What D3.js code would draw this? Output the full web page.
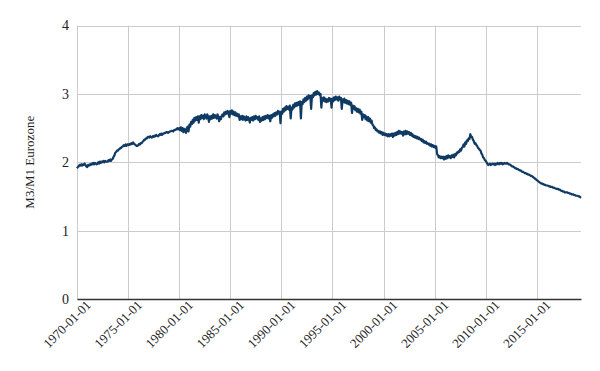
<!DOCTYPE html>
<html>
<head>
<meta charset="utf-8">
<script src="https://cdn.jsdelivr.net/npm/d3@7"></script>
<style>
  body { margin: 0; background: #fff; }
</style>
</head>
<body>
<div id="chart"></div>
<script>
// monthly M3/M1 ratio, starting January 1970
var startDate = new Date(1970, 0, 1);
var yTicks = [0, 1, 2, 3, 4];
var yLabel = "M3/M1 Eurozone";
var ratio = [
  1.91,1.93,1.94,1.96,1.95,1.97,1.95,1.97,1.96,1.98,1.96,1.94, // 1970
  1.93,1.96,1.95,1.97,1.96,1.98,1.97,1.99,1.97,1.99,1.98,1.97,
  1.98,2.00,1.98,2.01,1.99,2.01,2.00,2.02,2.00,2.02,2.01,2.01,
  2.01,2.03,2.02,2.04,2.02,2.04,2.05,2.08,2.10,2.14,2.15,2.17,
  2.17,2.19,2.19,2.21,2.21,2.23,2.23,2.25,2.24,2.26,2.24,2.26,
  2.26,2.25,2.27,2.26,2.28,2.27,2.29,2.27,2.26,2.25,2.24,2.24, // 1975
  2.25,2.27,2.26,2.28,2.28,2.30,2.31,2.33,2.33,2.35,2.35,2.37,
  2.37,2.36,2.38,2.37,2.36,2.38,2.37,2.39,2.38,2.40,2.39,2.38,
  2.39,2.41,2.40,2.42,2.40,2.42,2.42,2.43,2.43,2.44,2.44,2.43,
  2.44,2.45,2.45,2.46,2.46,2.45,2.47,2.47,2.48,2.48,2.50,2.48,
  2.50,2.47,2.51,2.46,2.50,2.44,2.49,2.47,2.43,2.50,2.52,2.45, // 1980
  2.55,2.52,2.59,2.56,2.62,2.58,2.65,2.61,2.66,2.62,2.67,2.58,
  2.67,2.63,2.69,2.65,2.68,2.63,2.70,2.66,2.64,2.70,2.67,2.59,
  2.67,2.63,2.68,2.64,2.70,2.65,2.69,2.66,2.64,2.70,2.67,2.60,
  2.66,2.63,2.68,2.70,2.67,2.73,2.70,2.74,2.71,2.75,2.72,2.66,
  2.75,2.71,2.76,2.70,2.74,2.69,2.73,2.68,2.71,2.67,2.70,2.62, // 1985
  2.67,2.63,2.68,2.62,2.67,2.64,2.61,2.67,2.62,2.66,2.63,2.58,
  2.65,2.62,2.66,2.61,2.67,2.63,2.68,2.64,2.66,2.62,2.67,2.59,
  2.64,2.61,2.66,2.62,2.67,2.63,2.68,2.65,2.69,2.64,2.68,2.60,
  2.69,2.65,2.70,2.67,2.72,2.68,2.73,2.70,2.75,2.71,2.74,2.57,
  2.74,2.71,2.78,2.74,2.80,2.76,2.82,2.78,2.81,2.77,2.83,2.64, // 1990
  2.80,2.77,2.84,2.80,2.86,2.82,2.87,2.83,2.88,2.84,2.89,2.64,
  2.88,2.85,2.92,2.88,2.94,2.90,2.96,2.92,2.98,2.94,2.97,2.78,
  2.98,2.95,3.01,2.98,3.03,2.99,3.04,3.00,3.02,2.98,3.00,2.80,
  2.94,2.90,2.95,2.89,2.93,2.88,2.92,2.89,2.94,2.90,2.93,2.80,
  2.93,2.89,2.95,2.91,2.96,2.92,2.95,2.90,2.96,2.92,2.94,2.78, // 1995
  2.92,2.88,2.93,2.87,2.91,2.86,2.90,2.85,2.89,2.84,2.87,2.72,
  2.83,2.78,2.82,2.76,2.79,2.74,2.78,2.73,2.77,2.71,2.74,2.62,
  2.70,2.66,2.69,2.63,2.67,2.61,2.66,2.60,2.64,2.58,2.61,2.55,
  2.54,2.50,2.51,2.47,2.48,2.45,2.46,2.43,2.45,2.42,2.44,2.40,
  2.43,2.40,2.42,2.39,2.41,2.38,2.41,2.38,2.41,2.39,2.42,2.37, // 2000
  2.42,2.39,2.43,2.40,2.44,2.41,2.46,2.42,2.45,2.42,2.44,2.39,
  2.45,2.41,2.46,2.41,2.45,2.42,2.44,2.40,2.43,2.39,2.41,2.37,
  2.39,2.36,2.38,2.35,2.37,2.34,2.36,2.33,2.34,2.31,2.33,2.29,
  2.31,2.28,2.30,2.27,2.28,2.26,2.27,2.24,2.26,2.23,2.25,2.22,
  2.24,2.21,2.23,2.12,2.10,2.07,2.09,2.06,2.08,2.06,2.08,2.04, // 2005
  2.08,2.05,2.09,2.06,2.10,2.07,2.09,2.06,2.10,2.08,2.11,2.07,
  2.12,2.10,2.14,2.13,2.16,2.15,2.19,2.17,2.21,2.22,2.26,2.23,
  2.29,2.27,2.32,2.31,2.35,2.34,2.41,2.37,2.37,2.33,2.31,2.27,
  2.28,2.25,2.24,2.21,2.20,2.18,2.17,2.13,2.11,2.07,2.06,2.03,
  2.02,2.00,1.98,1.96,1.97,1.98,1.96,1.97,1.98,1.97,1.98,1.96, // 2010
  1.98,1.97,1.99,1.98,1.97,1.99,1.98,1.99,1.97,1.98,1.99,1.98,
  1.98,1.99,1.98,1.97,1.97,1.96,1.95,1.94,1.94,1.93,1.92,1.91,
  1.91,1.90,1.90,1.89,1.88,1.88,1.87,1.86,1.86,1.85,1.84,1.84,
  1.83,1.83,1.82,1.82,1.81,1.80,1.80,1.79,1.78,1.77,1.76,1.75,
  1.74,1.73,1.72,1.71,1.70,1.69,1.69,1.68,1.68,1.67,1.67,1.66, // 2015
  1.66,1.66,1.65,1.65,1.64,1.64,1.64,1.63,1.63,1.62,1.62,1.61,
  1.61,1.61,1.60,1.60,1.59,1.58,1.58,1.57,1.57,1.56,1.56,1.56,
  1.56,1.55,1.55,1.54,1.54,1.53,1.53,1.53,1.52,1.52,1.51,1.51,
  1.51,1.50,1.50,1.49,1.48                                      // 2019
];

var width = 600, height = 371;
var margin = {top: 25.5, right: 19, bottom: 72, left: 77};
var serif = "'Liberation Serif', 'DejaVu Serif', serif";

var data = ratio.map(function(v, i) {
  return {date: d3.timeMonth.offset(startDate, i), value: v};
});

var svg = d3.select("#chart").append("svg").attr("width", width).attr("height", height);

var x = d3.scaleTime()
  .domain(d3.extent(data, function(d) { return d.date; }))
  .range([margin.left, width - margin.right]);
var y = d3.scaleLinear().domain([0, 4]).range([height - margin.bottom, margin.top]);

// grid
svg.append("g").selectAll("line").data(yTicks).enter().append("line")
  .attr("x1", margin.left).attr("x2", width - margin.right)
  .attr("y1", function(d) { return Math.round(y(d)) + 0.5; })
  .attr("y2", function(d) { return Math.round(y(d)) + 0.5; })
  .attr("stroke", "#cccccc");

var xTicks = d3.timeYear.every(5).range(new Date(1970, 0, 1), new Date(2019, 6, 1));
svg.append("g").selectAll("line").data(xTicks).enter().append("line")
  .attr("x1", function(d) { return Math.round(x(d)) + 0.5; })
  .attr("x2", function(d) { return Math.round(x(d)) + 0.5; })
  .attr("y1", margin.top).attr("y2", height - margin.bottom)
  .attr("stroke", "#cccccc");

// y axis labels
var yAxis = svg.append("g")
  .attr("transform", "translate(" + margin.left + ",0)")
  .call(d3.axisLeft(y).tickValues(yTicks).tickSize(0).tickPadding(8).tickFormat(d3.format("d")));
yAxis.attr("font-family", serif).attr("font-size", 14);
yAxis.select(".domain").remove();
yAxis.selectAll("text").attr("fill", "#222");

// x axis
var xAxis = svg.append("g")
  .attr("transform", "translate(0," + (height - margin.bottom) + ")")
  .call(d3.axisBottom(x).tickValues(xTicks).tickSize(0).tickPadding(9).tickFormat(d3.timeFormat("%Y-%m-%d")));
xAxis.attr("font-family", serif).attr("font-size", 13);
xAxis.select(".domain").attr("stroke", "#333").attr("stroke-width", 1.5);
xAxis.selectAll("text")
  .attr("fill", "#222")
  .attr("text-anchor", "end")
  .attr("dx", "0.4em").attr("dy", "0.45em")
  .attr("transform", "rotate(-45)");

// axis title
svg.append("text")
  .attr("transform", "translate(34," + (margin.top + (height - margin.bottom - margin.top) / 2) + ") rotate(-90)")
  .attr("text-anchor", "middle")
  .attr("font-family", serif)
  .attr("font-size", 13)
  .attr("fill", "#222")
  .text(yLabel);

// line
var line = d3.line()
  .x(function(d) { return x(d.date); })
  .y(function(d) { return y(d.value); });

svg.append("path").datum(data)
  .attr("fill", "none")
  .attr("stroke", "#0e3a63")
  .attr("stroke-width", 2.2)
  .attr("stroke-linejoin", "round")
  .attr("d", line);
</script>
</body>
</html>
